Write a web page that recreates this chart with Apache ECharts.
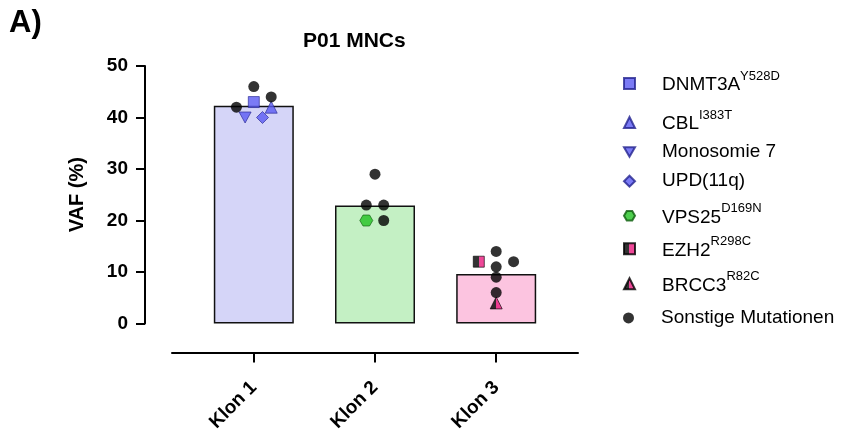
<!DOCTYPE html>
<html>
<head>
<meta charset="utf-8">
<script src="https://cdn.jsdelivr.net/npm/echarts@6/dist/echarts.min.js"></script>
<style>
  html, body { margin: 0; padding: 0; background: #fff; }
  #chart { width: 843px; height: 435px; }
</style>
</head>
<body>
<div id="chart"></div>
<script>
// Clones and mean VAF (%) drawn as bars
const categories = ['Klon 1', 'Klon 2', 'Klon 3'];
const meanVaf = [42.3, 22.9, 9.6];
const yTicks = [0, 10, 20, 30, 40, 50];

// VAF (%) of each alteration, per clone (null = not present in that clone)
const dnmt3a = [43, null, null];
const cbl = [42, null, null];
const monosomie7 = [40, null, null];
const upd11q = [40, null, null];
const vps25 = [null, 20, null];
const ezh2 = [null, null, 12];
const brcc3 = [null, null, 4];
const sonstige = [[46, 44, 42], [29, 23, 23, 20], [14, 12, 11, 9, 6]];

// Superscript protein changes shown in the legend
const superscripts = {
  'DNMT3A': 'Y528D', 'CBL': 'I383T', 'VPS25': 'D169N', 'EZH2': 'R298C', 'BRCC3': 'R82C'
};

// Horizontal spreading of overlapping points (column steps around the clone centre)
const SLOT = 8.7;
const slots = {
  dnmt3a: [0, null, null], cbl: [2, null, null], monosomie7: [-1, null, null],
  upd11q: [1, null, null], vps25: [null, -1, null], ezh2: [null, null, -2],
  brcc3: [null, null, 0], sonstige: [[0, 2, -2], [0, -1, 1, 1], [0, 2, 0, 0, 0]]
};

const FONT = "'Liberation Sans', Arial, Helvetica, sans-serif";
const BLUE = '#5a5af2', BLUE_EDGE = '#23238f';
const GREEN = '#22c222', GREEN_EDGE = '#0c5c0c';
const PINK = '#ea1a7e';
const barColors = ['#d5d5f8', '#c4f0c4', '#fcc4e0'];

const HEXAGON = 'path://M-1,0 L-0.5,-0.866 L0.5,-0.866 L1,0 L0.5,0.866 L-0.5,0.866 Z';
const TRI_DOWN = 'path://M0,0 L2,0 L1,1.73 Z';

function splitFill(left, right) {
  return {
    type: 'linear', x: 0, y: 0, x2: 1, y2: 0,
    colorStops: [
      { offset: 0, color: left }, { offset: 0.5, color: left },
      { offset: 0.5, color: right }, { offset: 1, color: right }
    ]
  };
}

function points(values, cols) {
  const out = [];
  values.forEach((v, ci) => {
    if (v == null) return;
    const list = Array.isArray(v) ? v : [v];
    const cl = Array.isArray(cols[ci]) ? cols[ci] : [cols[ci]];
    list.forEach((y, k) => out.push({ value: [ci, y], symbolOffset: [cl[k] * SLOT, 0] }));
  });
  return out;
}

function markerSeries(name, values, cols, symbol, size, itemStyle) {
  return {
    name, type: 'scatter', xAxisIndex: 0, yAxisIndex: 0, z: 5,
    symbol, symbolSize: size, itemStyle,
    data: points(values, cols), emphasis: { disabled: true }
  };
}

const series = [
  {
    type: 'bar', z: 2, barWidth: 80, silent: true,
    data: meanVaf.map((v, i) => ({ value: [i, v], itemStyle: { color: barColors[i] } })),
    itemStyle: { borderColor: '#111', borderWidth: 1.5 }
  },
  markerSeries('DNMT3A', dnmt3a, slots.dnmt3a, 'rect', 11, { color: BLUE, borderColor: BLUE_EDGE, borderWidth: 0.8 }),
  markerSeries('CBL', cbl, slots.cbl, 'triangle', 12, { color: BLUE, borderColor: BLUE_EDGE, borderWidth: 0.8 }),
  markerSeries('Monosomie 7', monosomie7, slots.monosomie7, TRI_DOWN, [12, 11], { color: BLUE, borderColor: BLUE_EDGE, borderWidth: 0.8 }),
  markerSeries('UPD(11q)', upd11q, slots.upd11q, 'diamond', 12, { color: BLUE, borderColor: BLUE_EDGE, borderWidth: 0.8 }),
  markerSeries('VPS25', vps25, slots.vps25, HEXAGON, [13, 11], { color: GREEN, borderColor: GREEN_EDGE, borderWidth: 0.8 }),
  markerSeries('EZH2', ezh2, slots.ezh2, 'rect', 11, { color: splitFill('#000', PINK), borderColor: '#000', borderWidth: 0.8 }),
  markerSeries('BRCC3', brcc3, slots.brcc3, 'triangle', 12, { color: splitFill('#000', PINK), borderColor: '#000', borderWidth: 0.8 }),
  markerSeries('Sonstige Mutationen', sonstige, slots.sonstige, 'circle', 11, { color: '#000' })
];

// One legend block per entry so every row sits at its own height
const legendNames = ['DNMT3A', 'CBL', 'Monosomie 7', 'UPD(11q)', 'VPS25', 'EZH2', 'BRCC3', 'Sonstige Mutationen'];
const legendIconY = [82.7, 121.7, 150.7, 180, 215, 248, 283, 316.7];
const legends = legendNames.map((name, i) => {
  const hasSup = !!superscripts[name];
  return {
    show: true, orient: 'vertical', left: 623,
    top: legendIconY[i] - (hasSup ? 13.2 : 8.3),
    padding: 0, itemWidth: 11, itemHeight: 11,
    selectedMode: false, data: [name],
    formatter: n => superscripts[n] ? `{m|${n}}{s|${superscripts[n]}}` : `{p|${n}}`,
    textStyle: {
      color: '#000', fontFamily: FONT,
      rich: {
        p: { fontSize: 19, lineHeight: 22, color: '#000', fontFamily: FONT, padding: [0, 0, 0, 22] },
        m: { fontSize: 19, lineHeight: 22, color: '#000', fontFamily: FONT, padding: [5, 0, 0, 22], verticalAlign: 'bottom' },
        s: { fontSize: 13, lineHeight: 13, color: '#000', fontFamily: FONT, padding: [0, 0, 12, 0], verticalAlign: 'bottom' }
      }
    }
  };
});

const chart = echarts.init(document.getElementById('chart'), null, { renderer: 'canvas' });
chart.setOption({
  animation: false,
  backgroundColor: '#fff',
  textStyle: { fontFamily: FONT },
  title: [
    { text: 'A)', left: 9, top: 8, padding: 0, textStyle: { fontSize: 31, fontWeight: 'bold', color: '#000', fontFamily: FONT } },
    { text: 'P01 MNCs', left: 303, top: 31, padding: 0, textStyle: { fontSize: 21, fontWeight: 'bold', color: '#000', fontFamily: FONT } }
  ],
  legend: legends,
  grid: { left: 172, right: 265, top: 66, bottom: 111.5, containLabel: false },
  xAxis: {
    type: 'value', min: -0.675, max: 2.675, offset: 29,
    splitLine: { show: false },
    axisLine: { show: true, onZero: false, lineStyle: { color: '#000', width: 2 } },
    axisTick: { show: true, length: 10, lineStyle: { color: '#000', width: 2 }, customValues: categories.map((c, i) => i) },
    axisLabel: {
      show: true, rotate: 45, margin: 32, fontSize: 19, fontWeight: 'bold', color: '#000', fontFamily: FONT,
      customValues: categories.map((c, i) => i),
      formatter: v => categories[Math.round(v)]
    }
  },
  yAxis: {
    type: 'value', min: yTicks[0], max: yTicks[yTicks.length - 1], interval: 10, offset: 27,
    name: 'VAF (%)', nameLocation: 'middle', nameGap: 58, nameRotate: 90,
    nameTextStyle: { fontSize: 20, fontWeight: 'bold', color: '#000', fontFamily: FONT },
    splitLine: { show: false },
    axisLine: { show: true, onZero: false, lineStyle: { color: '#000', width: 2 } },
    axisTick: { show: true, length: 9, lineStyle: { color: '#000', width: 2 } },
    axisLabel: { margin: 17, fontSize: 19, fontWeight: 'bold', color: '#000', fontFamily: FONT }
  },
  series
});
</script>
</body>
</html>
